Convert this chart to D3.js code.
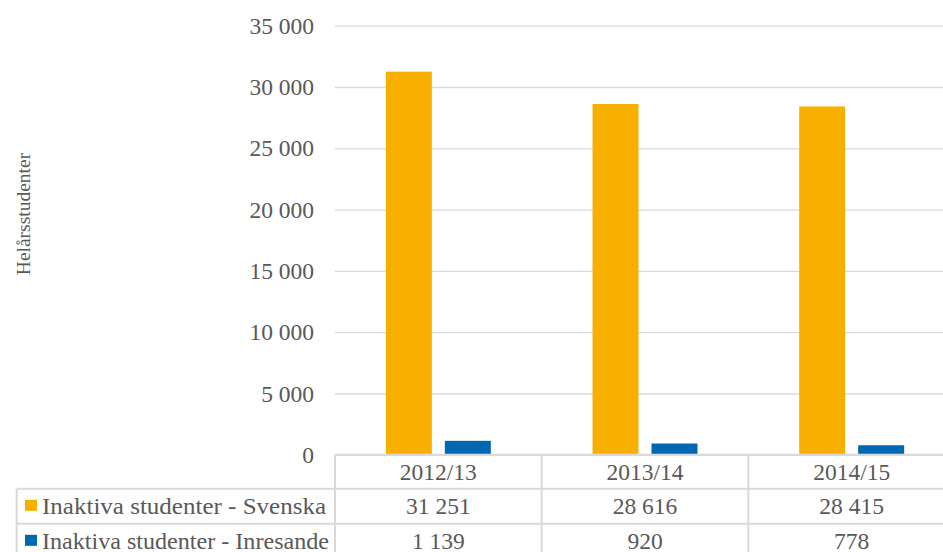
<!DOCTYPE html>
<html lang="sv">
<head>
<meta charset="utf-8">
<title>Inaktiva studenter</title>
<script src="https://cdnjs.cloudflare.com/ajax/libs/d3/7.8.5/d3.min.js"></script>
<style>
  body { margin: 0; background: #fff; }
  svg { display: block; }
</style>
</head>
<body>
<script>
// data
var years = ["2012/13", "2013/14", "2014/15"];
var seriesNames = ["Inaktiva studenter - Svenska", "Inaktiva studenter - Inresande"];
var svenska = [31251, 28616, 28415];
var inresande = [1139, 920, 778];
var yTicks = [0, 5000, 10000, 15000, 20000, 25000, 30000, 35000];
var colors = ["#F8B000", "#0068B3"];

var W = 943, H = 552;
var plotLeft = 335, plotRight = 955, plotTop = 25.7, plotBottom = 454.8;
var rowH = 35;
var FONT = "Liberation Serif";
var TXT = "#595959";
var FS = 23.5;

var svg = d3.select("body").append("svg").attr("width", W).attr("height", H);

var y = d3.scaleLinear().domain([0, 35000]).range([plotBottom, plotTop]);
var x = d3.scaleBand().domain(years).range([plotLeft, plotRight]);
var xs = d3.scaleBand().domain(seriesNames).range([0, x.bandwidth()])
  .paddingInner(0.2203).paddingOuter(0.8617);

var fmt = function(v) { return d3.format(",")(v).replace(/,/g, " "); };

// gridlines + y ticks
var yAxis = d3.axisLeft(y).tickValues(yTicks).tickFormat(fmt)
  .tickSize(-(plotRight - plotLeft)).tickPadding(21);
var gy = svg.append("g").attr("transform", "translate(" + plotLeft + ",0)").call(yAxis);
gy.attr("font-family", FONT).attr("font-size", FS);
gy.select(".domain").remove();
gy.selectAll(".tick line").attr("stroke", "#D9D9D9").attr("stroke-width", 1.3);
gy.selectAll(".tick text").attr("fill", TXT).attr("font-family", FONT).attr("font-size", FS);

// bars
var rows = [svenska, inresande];
rows.forEach(function(vals, si) {
  svg.append("g").selectAll("rect")
    .data(vals)
    .enter().append("rect")
    .attr("x", function(d, i) { return x(years[i]) + xs(seriesNames[si]); })
    .attr("width", xs.bandwidth())
    .attr("y", function(d) { return y(d); })
    .attr("height", function(d) { return y(0) - y(d); })
    .attr("fill", colors[si]);
});

// y label
svg.append("text")
  .attr("transform", "translate(30,214) rotate(-90)")
  .attr("text-anchor", "middle")
  .attr("font-family", FONT).attr("font-size", 19.5).attr("fill", TXT)
  .text("Helårsstudenter");

// data table
var tableLeft = 16.7;
var tbl = svg.append("g");
var lineColor = "#D9D9D9";
// horizontal lines
tbl.append("line").attr("x1", plotLeft).attr("x2", plotRight)
  .attr("y1", plotBottom).attr("y2", plotBottom).attr("stroke", lineColor).attr("stroke-width", 2);
[1, 2, 3].forEach(function(r) {
  tbl.append("line").attr("x1", tableLeft).attr("x2", plotRight)
    .attr("y1", plotBottom + r * rowH - 1).attr("y2", plotBottom + r * rowH - 1)
    .attr("stroke", lineColor).attr("stroke-width", 2);
});
// vertical lines
tbl.append("line").attr("x1", tableLeft).attr("x2", tableLeft)
  .attr("y1", plotBottom + rowH - 1).attr("y2", H + 10).attr("stroke", lineColor).attr("stroke-width", 2);
years.concat(["end"]).forEach(function(yr, i) {
  var xx = i < years.length ? x(yr) : plotRight;
  tbl.append("line").attr("x1", xx).attr("x2", xx)
    .attr("y1", plotBottom).attr("y2", H + 10).attr("stroke", lineColor).attr("stroke-width", 2);
});
// header
tbl.selectAll("text.head").data(years).enter().append("text")
  .attr("class", "head")
  .attr("x", function(d) { return x(d) + x.bandwidth() / 2; })
  .attr("y", plotBottom + 25)
  .attr("text-anchor", "middle")
  .attr("font-family", FONT).attr("font-size", FS).attr("fill", TXT)
  .text(function(d) { return d; });
// rows
var legendLen = [284, 287];
rows.forEach(function(vals, si) {
  var ry = plotBottom + (si + 1) * rowH;
  tbl.selectAll("text.r" + si).data(vals).enter().append("text")
    .attr("class", "r" + si)
    .attr("x", function(d, i) { return x(years[i]) + x.bandwidth() / 2; })
    .attr("y", ry + 24.5)
    .attr("text-anchor", "middle")
    .attr("font-family", FONT).attr("font-size", FS).attr("fill", TXT)
    .text(fmt);
  tbl.append("rect").attr("x", 25).attr("y", ry + 10).attr("width", 12).attr("height", 11)
    .attr("fill", colors[si]);
  tbl.append("text")
    .attr("x", 42).attr("y", ry + 24.5)
    .attr("font-family", FONT).attr("font-size", 24).attr("fill", TXT)
    .attr("textLength", legendLen[si]).attr("lengthAdjust", "spacingAndGlyphs")
    .text(seriesNames[si]);
});
</script>
</body>
</html>
